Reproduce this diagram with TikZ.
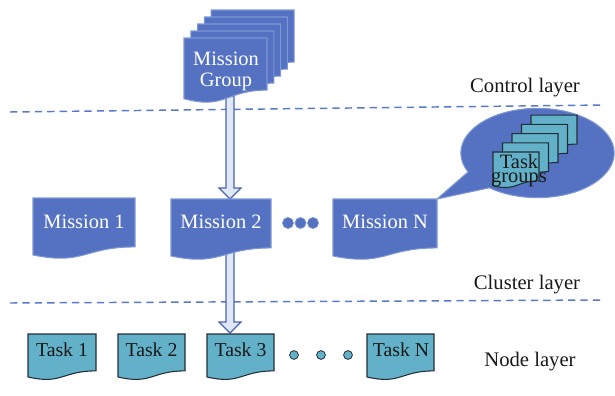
\documentclass[tikz,border=0pt]{standalone}
\usepackage{fontspec}
\setmainfont{Liberation Serif}
\usetikzlibrary{shapes.callouts,calc}
\definecolor{mfill}{RGB}{84,114,193}
\definecolor{mline}{RGB}{125,150,212}
\definecolor{tfill}{RGB}{98,177,201}
\definecolor{tline}{RGB}{35,45,55}
\definecolor{dashblue}{RGB}{88,122,205}
\definecolor{arrfill}{RGB}{224,231,249}
\definecolor{arrline}{RGB}{72,100,178}
\newcommand{\docshape}[5]{%
  \path[#1] (#2,#3) -- ({#2+#4},#3) -- ({#2+#4},{#3+0.802*#5})
    .. controls ({#2+0.5*#4},{#3+0.802*#5}) and ({#2+0.5*#4},{#3+1.107*#5}) .. (#2,{#3+0.934*#5}) -- cycle;}
\tikzset{
  mission/.style={fill=mfill,draw=mline,line width=0.8pt},
  taskdoc/.style={fill=tfill,draw=tline,line width=0.8pt},
  mtext/.style={text=white,font=\fontsize{15.3}{17}\selectfont,inner sep=0pt},
  ttext/.style={text=black!90,font=\fontsize{14.8}{16}\selectfont,inner sep=0pt},
  lbl/.style={text=black!90,font=\fontsize{15.5}{17}\selectfont,inner sep=0pt},
  layerline/.style={draw=dashblue,line width=1.1pt,dash pattern=on 5.5pt off 3.8pt},
  blockarr/.style={fill=arrfill,draw=arrline,line width=0.8pt,line join=miter},
  mdot/.style={circle,fill=mfill,draw=mline,line width=0.5pt,minimum size=8.3pt,inner sep=0pt},
  tdot/.style={circle,fill=tfill,draw=tline,line width=0.6pt,minimum size=6.6pt,inner sep=0pt}
}
\begin{document}
\begin{tikzpicture}[x=0.75pt,y=-0.75pt]
\useasboundingbox (0,0) rectangle (615,396);
% layer separators
\coordinate (l1a) at (10,112);
\coordinate (l1b) at (604,105);
\coordinate (l2a) at (10,303);
\coordinate (l2b) at (604,300);
\draw[layerline] (l1a) -- (l1b);
\draw[layerline] (l2a) -- (l2b);
% block arrows
\coordinate (a1top) at (230,96);
\coordinate (a1tip) at (230,199);
\coordinate (a2top) at (230,252);
\coordinate (a2tip) at (230,333);
\foreach \t/\h in {a1top/a1tip,a2top/a2tip}{
  \draw[blockarr] ($(\t)+(-4,0)$) -- ($(\h)+(-4,-11)$) -- ($(\h)+(-11,-11)$) -- (\h)
    -- ($(\h)+(11,-11)$) -- ($(\h)+(4,-11)$) -- ($(\t)+(4,0)$) -- cycle;
}
% mission group stack
\foreach \k in {4,3,2,1}{\docshape{mission}{184+6.8*\k}{38-7*\k}{83}{65}}
\docshape{mission}{184}{38}{83}{65}
\node[mtext,align=center,font=\fontsize{15.3}{15.8}\selectfont] (grp) at (226,71) {Mission\\Group};
% missions
\docshape{mission}{33}{198}{102}{61}
\node[mtext] (m1) at (84,222) {Mission 1};
\docshape{mission}{171}{199}{100}{61}
\node[mtext] (m2) at (221,222) {Mission 2};
\docshape{mission}{333}{199}{104}{61}
\node[mtext] (mN) at (385,222) {Mission N};
\node[mdot] (d1) at (288,223) {};
\node[mdot] (d2) at (300.5,223) {};
\node[mdot] (d3) at (313,223) {};
% speech bubble with task groups
\coordinate (mNcorner) at (437,199);
\node[ellipse callout,fill=mfill,draw=mline,line width=0.8pt,minimum width=115pt,minimum height=67pt,
  callout absolute pointer={(mNcorner)},callout pointer arc=26] (bubble) at (537.5,153) {};
\foreach \k in {4,3,2,1}{\docshape{taskdoc}{493+9.5*\k}{152-9.2*\k}{46}{36}}
\docshape{taskdoc}{493}{152}{46}{36}
\node[ttext,align=center,font=\fontsize{15.3}{10.5}\selectfont] (tg) at (519,171) {Task\\groups};
% tasks
\docshape{taskdoc}{28}{334}{68}{46}
\node[ttext] (t1) at (62,350) {Task 1};
\docshape{taskdoc}{118}{334}{67}{46}
\node[ttext] (t2) at (151.5,350) {Task 2};
\docshape{taskdoc}{207}{334}{67}{46}
\node[ttext] (t3) at (240.5,350) {Task 3};
\docshape{taskdoc}{367}{334}{67}{46}
\node[ttext] (tN) at (401,350) {Task N};
\node[tdot] (e1) at (294,355) {};
\node[tdot] (e2) at (321,355) {};
\node[tdot] (e3) at (348,355) {};
% layer labels
\node[lbl] (ctl) at (525,88) {Control layer};
\node[lbl] (cls) at (527,285) {Cluster layer};
\node[lbl] (nod) at (530,362) {Node layer};
\end{tikzpicture}
\end{document}
